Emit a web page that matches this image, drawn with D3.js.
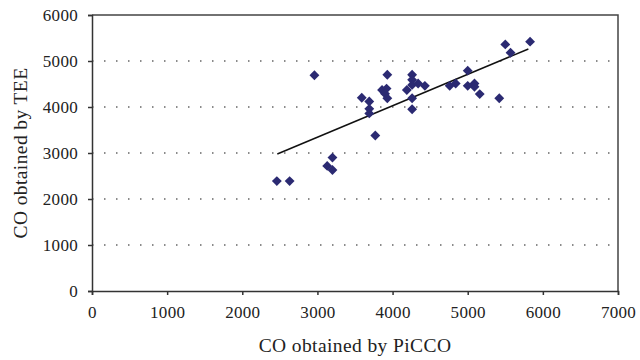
<!DOCTYPE html>
<html>
<head>
<script src="https://d3js.org/d3.v7.min.js"></script>
<style>
    body { margin: 0; background: #ffffff; }
    text { font-family: 'Liberation Serif', serif; fill: #222; }
</style>
</head>
<body>
<svg id="chart" width="640" height="360"></svg>
<script>
    // PiCCO values (x) and TEE values (y)
    var picco = [2460, 2630, 2960, 3130, 3200, 3200, 3590, 3690, 3690, 3690,
                 3770, 3860, 3920, 3900, 3930, 3930, 4190, 4260, 4260, 4260,
                 4340, 4430, 4260, 4260, 4760, 4840, 5000, 5000, 5090, 5090,
                 5160, 5420, 5500, 5570, 5830];
    var tee = [2390, 2390, 4690, 2720, 2630, 2900, 4200, 4120, 3960, 3860,
               3380, 4370, 4400, 4290, 4190, 4700, 4370, 4700, 4590, 4480,
               4510, 4460, 4190, 3950, 4460, 4510, 4790, 4460, 4510, 4440,
               4280, 4190, 5360, 5180, 5420];
    // trend line end points
    var trendX = [2466, 5807];
    var trendY = [2978, 5261];
    var xTicks = [0, 1000, 2000, 3000, 4000, 5000, 6000, 7000];
    var yTicks = [0, 1000, 2000, 3000, 4000, 5000, 6000];

    var svg = d3.select("#chart");
    var margin = { top: 15, right: 22, bottom: 69, left: 92 };
    var width = 640 - margin.left - margin.right;
    var height = 360 - margin.top - margin.bottom;

    var x = d3.scaleLinear().domain([0, 7000]).range([0, width]);
    var y = d3.scaleLinear().domain([0, 6000]).range([height, 0]);

    var g = svg.append("g")
        .attr("transform", "translate(" + margin.left + "," + margin.top + ")");

    // dotted grid lines
    g.selectAll(".grid")
        .data(yTicks.filter(function (d) { return d > 0 && d < 6000; }))
        .enter().append("line")
        .attr("x1", 0).attr("x2", width)
        .attr("y1", function (d) { return y(d); })
        .attr("y2", function (d) { return y(d); })
        .attr("stroke", "#666")
        .attr("stroke-width", 1.5)
        .attr("stroke-dasharray", "1.5,10.5");

    // frame top and right
    g.append("path")
        .attr("d", "M0,0H" + width + "V" + height)
        .attr("fill", "none")
        .attr("stroke", "#444")
        .attr("stroke-width", 1.5);

    var fmt = d3.format("d");
    g.append("g")
        .attr("transform", "translate(0," + height + ")")
        .call(d3.axisBottom(x).tickValues(xTicks).tickFormat(fmt).tickSize(4).tickPadding(11));
    g.append("g")
        .call(d3.axisLeft(y).tickValues(yTicks).tickFormat(fmt).tickSize(4).tickPadding(10));

    g.selectAll(".domain, .tick line")
        .attr("stroke", "#333")
        .attr("stroke-width", 1.5);
    g.selectAll(".tick text")
        .style("font-family", "'Liberation Serif', serif")
        .style("font-size", "17px")
        .style("letter-spacing", "0.3px")
        .attr("fill", "#222");

    // trend line
    g.append("line")
        .attr("x1", x(trendX[0])).attr("y1", y(trendY[0]))
        .attr("x2", x(trendX[1])).attr("y2", y(trendY[1]))
        .attr("stroke", "#111")
        .attr("stroke-width", 1.5);

    // diamond markers
    var diamond = d3.symbol().type(d3.symbolDiamond2).size(62);
    g.selectAll(".pt")
        .data(picco)
        .enter().append("path")
        .attr("transform", function (d, i) {
            return "translate(" + x(d) + "," + y(tee[i]) + ")";
        })
        .attr("d", diamond)
        .attr("fill", "#2b2a72");

    svg.append("text")
        .attr("x", margin.left + width / 2)
        .attr("y", 352)
        .attr("text-anchor", "middle")
        .style("font-size", "19.5px")
        .style("letter-spacing", "0.4px")
        .text("CO obtained by PiCCO");

    svg.append("text")
        .attr("transform", "translate(27," + (margin.top + height / 2) + ") rotate(-90)")
        .attr("text-anchor", "middle")
        .style("font-size", "19.5px")
        .style("letter-spacing", "0.4px")
        .text("CO obtained by TEE");
</script>
</body>
</html>
